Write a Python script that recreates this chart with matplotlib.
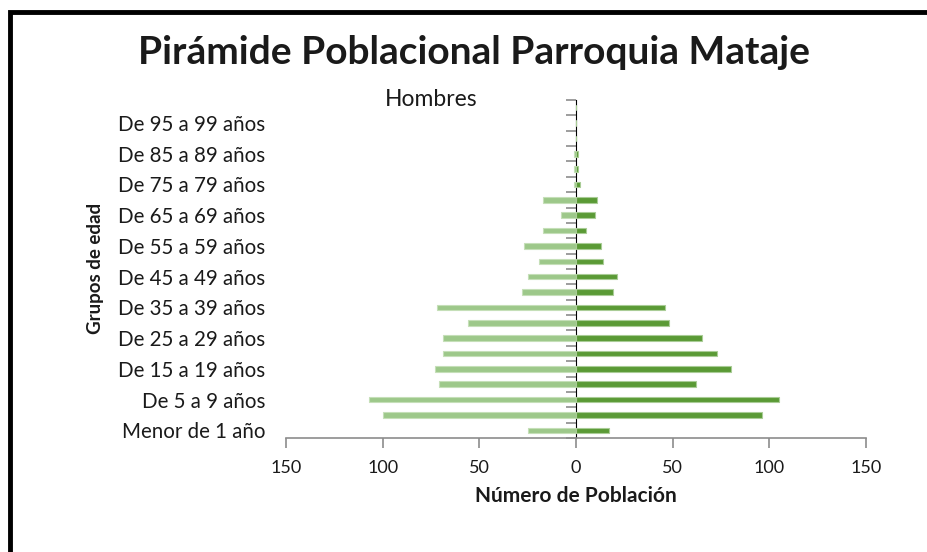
import matplotlib
matplotlib.use("Agg")
import matplotlib.pyplot as plt
import numpy as np
from matplotlib.patches import Rectangle
import matplotlib.transforms as mtransforms

plt.rcParams['font.family'] = ['Lato', 'DejaVu Sans']

categories = ["Menor de 1 año", "De 1 a 4 años", "De 5 a 9 años", "De 10 a 14 años",
              "De 15 a 19 años", "De 20 a 24 años", "De 25 a 29 años", "De 30 a 34 años",
              "De 35 a 39 años", "De 40 a 44 años", "De 45 a 49 años", "De 50 a 54 años",
              "De 55 a 59 años", "De 60 a 64 años", "De 65 a 69 años", "De 70 a 74 años",
              "De 75 a 79 años", "De 80 a 84 años", "De 85 a 89 años", "De 90 a 94 años",
              "De 95 a 99 años", "De 100 años y más"]
hombres = [25, 100, 107, 71, 73, 69, 69, 56, 72, 28, 25, 19, 27, 17, 8, 17, 1, 1, 1, 0, 0, 0]
mujeres = [17, 96, 105, 62, 80, 73, 65, 48, 46, 19, 21, 14, 13, 5, 10, 11, 2, 1, 1, 0, 0, 0]
xticks = [-150, -100, -50, 0, 50, 100, 150]

fig = plt.figure(figsize=(9.27, 5.52), dpi=100)
ax = fig.add_axes([286/927, 1-438/552, (866-286)/927, (438-100)/552])

y = np.arange(len(categories))
ax.barh(y, -np.array(hombres), height=0.36, color='#9dc88a', edgecolor='#c5dfb8', linewidth=0.8)
ax.barh(y, mujeres, height=0.36, color='#5a9a35', edgecolor='#a9cc96', linewidth=0.8)

ax.set_xlim(-150, 150)
ax.set_ylim(-0.5, len(categories) - 0.5)

gray = '#8c8c8c'
txt = '#1a1a1a'
for s in ['top', 'right', 'left']:
    ax.spines[s].set_visible(False)
ax.spines['bottom'].set_color(gray)
ax.spines['bottom'].set_linewidth(1.2)

ax.set_xticks(xticks)
ax.set_xticklabels([str(abs(v)) for v in xticks], fontsize=13, color=txt)
ax.tick_params(axis='x', direction='out', length=7, width=1.2, color=gray, pad=9)

ax.set_yticks(y[::2])
ax.set_yticklabels(categories[::2], fontsize=14.8, color=txt)
ax.tick_params(axis='y', length=0, pad=15)

# central vertical axis with boundary ticks
sec = ax.secondary_yaxis(0.5)
sec.spines['left'].set_color(gray)
sec.spines['left'].set_linewidth(1.2)
sec.set_yticks(np.arange(-0.5, len(categories), 1.0))
sec.yaxis.set_ticks_position('left')
sec.tick_params(axis='y', direction='out', length=7, width=1.2, color=gray,
                labelleft=False, labelright=False, left=True, right=False)

ax.text(-75, 1.0, "Hombres", transform=mtransforms.blended_transform_factory(ax.transData, ax.transAxes),
        ha='center', va='center', fontsize=16.5, color=txt)

ax.set_xlabel("Número de Población", fontsize=15, fontweight='bold', labelpad=7, color=txt)
fig.text(96/927, 1-268/552, "Grupos de edad", rotation=90, ha='center', va='center',
         fontsize=13.5, fontweight='bold', color=txt)

fig.text(474/927, 1-52/552, "Pirámide Poblacional Parroquia Mataje", ha='center', va='center',
         fontsize=28, fontweight='bold', color=txt)

fig.patches.append(Rectangle((10/927, -0.2), 1.2, 1 - 12/552 + 0.2, transform=fig.transFigure,
                             fill=False, edgecolor='black', linewidth=3.5))

fig.savefig("out.png", dpi=100)
